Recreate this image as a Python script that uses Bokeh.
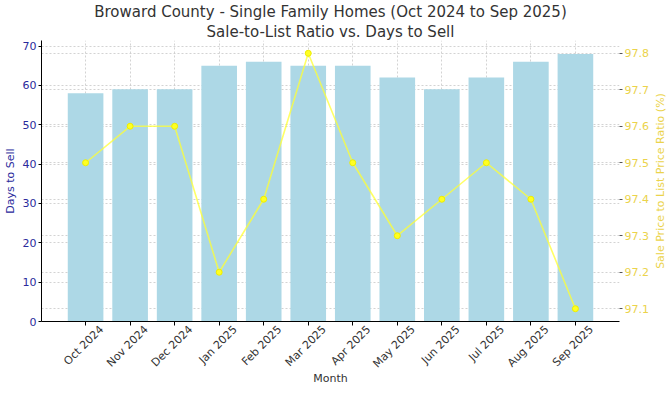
from bokeh.plotting import figure
from bokeh.layouts import row
from bokeh.models import Range1d, LinearAxis, FixedTicker, Grid, ColumnDataSource, Title
from bokeh.embed import file_html
from bokeh.resources import INLINE
import math

months = ["Oct 2024", "Nov 2024", "Dec 2024", "Jan 2025", "Feb 2025", "Mar 2025",
          "Apr 2025", "May 2025", "Jun 2025", "Jul 2025", "Aug 2025", "Sep 2025"]
days_to_sell = [58, 59, 59, 65, 66, 65, 65, 62, 59, 62, 66, 68]
sale_to_list = [97.5, 97.6, 97.6, 97.2, 97.4, 97.8, 97.5, 97.3, 97.4, 97.5, 97.4, 97.1]
left_ticks = [0, 10, 20, 30, 40, 50, 60, 70]
right_ticks = [97.1, 97.2, 97.3, 97.4, 97.5, 97.6, 97.7, 97.8]

idx = list(range(len(months)))
src = ColumnDataSource(dict(x=idx, days=days_to_sell, ratio=sale_to_list))

FONT = "DejaVu Sans"
LEFT_C = "#2a2a9c"
RIGHT_C = "#EBD34B"
TXT = "#333333"

xlo, xhi = -0.99, len(months) - 1 + 0.99
ylo, yhi = 0, max(days_to_sell) * 1.05
LAB_SHIFT = 0.36
H = 393
W_TOTAL = 666
W_SIDE = 15

p = figure(width=W_TOTAL - W_SIDE, height=H, output_backend="svg", toolbar_location=None,
           x_range=Range1d(xlo, xhi), x_axis_location=None,
           y_range=Range1d(ylo, yhi),
           min_border_left=0, min_border_right=0, min_border_top=0, min_border_bottom=0)
p.outline_line_color = None
p.title = None
p.xgrid.visible = False

for txt in ["Sale-to-List Ratio vs. Days to Sell",
            "Broward County - Single Family Homes (Oct 2024 to Sep 2025)"]:
    t = Title(text=txt, align="center", text_font=FONT, text_font_size="15px",
              text_font_style="normal", text_color=TXT, standoff=0)
    p.add_layout(t, "above")

lo, hi = min(sale_to_list), max(sale_to_list)
pad = (hi - lo) * 0.05
p.extra_y_ranges = {"ratio": Range1d(lo - pad, hi + pad)}
p.extra_x_ranges = {"lab": Range1d(xlo - LAB_SHIFT, xhi - LAB_SHIFT)}

p.vbar(x="x", top="days", width=0.8, source=src, color="#ADD8E6", line_color=None)
p.line(x="x", y="ratio", source=src, y_range_name="ratio", color="#FFFF33",
       line_width=1.6, line_alpha=0.75)
p.scatter(x="x", y="ratio", source=src, y_range_name="ratio", size=6,
          color="#FFFF22", line_color="#EEEE00")

# x axis: labels shifted so rotated labels are centred on their ticks;
# tick marks drawn as minor ticks at the true category positions
xl = LinearAxis(x_range_name="lab",
                ticker=FixedTicker(ticks=idx, minor_ticks=[i - LAB_SHIFT for i in idx]))
xl.major_label_overrides = {i: m for i, m in zip(idx, months)}
xl.major_label_orientation = math.pi / 4
xl.major_label_text_font = FONT
xl.major_label_text_font_size = "11px"
xl.major_label_text_color = TXT
xl.major_label_standoff = 2
xl.major_tick_line_color = None
xl.major_tick_out = 4
xl.major_tick_in = 0
xl.minor_tick_line_color = "black"
xl.minor_tick_out = 4
xl.minor_tick_in = 0
xl.axis_line_color = "black"
xl.axis_label = "Month"
xl.axis_label_text_font = FONT
xl.axis_label_text_font_size = "11px"
xl.axis_label_text_font_style = "normal"
xl.axis_label_text_color = TXT
xl.axis_label_standoff = -6
p.add_layout(xl, "below")

xg = Grid(dimension=0, ticker=FixedTicker(ticks=idx),
          grid_line_color="#c8c8c8", grid_line_dash="2 2", grid_line_width=0.8)
p.add_layout(xg)

# left axis
ya = p.yaxis[0]
ya.ticker = FixedTicker(ticks=left_ticks)
ya.axis_label = "Days to Sell"
ya.axis_label_text_font = FONT
ya.axis_label_text_font_size = "11px"
ya.axis_label_text_font_style = "normal"
ya.axis_label_text_color = LEFT_C
ya.axis_label_standoff = 3
ya.major_label_text_font = FONT
ya.major_label_text_font_size = "11px"
ya.major_label_text_color = LEFT_C
ya.major_label_standoff = 2
ya.major_tick_out = 3
ya.major_tick_in = 0
ya.minor_tick_line_color = None
ya.axis_line_color = "black"

# right axis (ticks and tick labels)
ra = LinearAxis(y_range_name="ratio", ticker=FixedTicker(ticks=right_ticks),
                axis_label=None, axis_label_standoff=0)
ra.major_label_text_font = FONT
ra.major_label_text_font_size = "11px"
ra.major_label_text_color = RIGHT_C
ra.major_label_standoff = 2
ra.major_tick_out = 3
ra.major_tick_in = 0
ra.major_tick_line_color = "#555555"
ra.minor_tick_line_color = None
ra.axis_line_color = None
p.add_layout(ra, "right")

# grids
p.ygrid[0].grid_line_color = "#c8c8c8"
p.ygrid[0].grid_line_dash = "2 2"
p.ygrid[0].grid_line_width = 0.8
rg = Grid(dimension=1, ticker=ra.ticker, y_range_name="ratio",
          grid_line_color="#c8c8c8", grid_line_dash="2 2", grid_line_width=0.8)
p.add_layout(rg)

# narrow side figure carrying the right-hand axis title (reads bottom-to-top)
p2 = figure(width=W_SIDE, height=H, output_backend="svg", toolbar_location=None,
            x_range=Range1d(0, 1), y_range=Range1d(lo - pad, hi + pad),
            x_axis_location=None,
            min_border_left=0, min_border_right=0, min_border_top=34, min_border_bottom=72)
p2.outline_line_color = None
p2.grid.visible = False
a2 = p2.yaxis[0]
a2.ticker = FixedTicker(ticks=[])
a2.axis_line_color = None
a2.major_tick_line_color = None
a2.minor_tick_line_color = None
a2.axis_label = "Sale Price to List Price Ratio (%)"
a2.axis_label_text_font = FONT
a2.axis_label_text_font_size = "11px"
a2.axis_label_text_font_style = "normal"
a2.axis_label_text_color = RIGHT_C
a2.axis_label_standoff = 0

layout = row(p, p2, spacing=0)
open("out.html", "w").write(file_html(layout, INLINE))
